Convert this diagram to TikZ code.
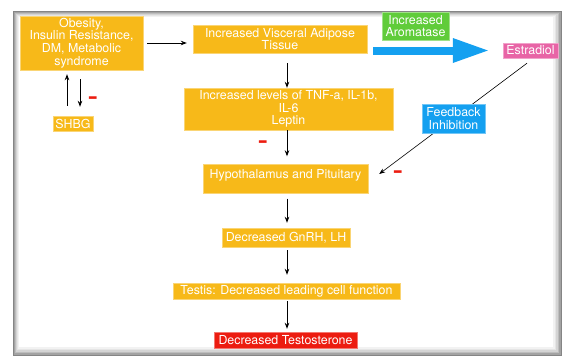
\documentclass[tikz,border=0pt]{standalone}
\usepackage{fontspec}
\setmainfont{TeX Gyre Heros}
\usetikzlibrary{arrows.meta}
\definecolor{boxorange}{RGB}{247,185,25}
\definecolor{boxgreen}{RGB}{96,204,58}
\definecolor{boxblue}{RGB}{20,160,240}
\definecolor{boxpink}{RGB}{232,100,166}
\definecolor{boxred}{RGB}{236,28,16}
\tikzset{
  box/.style={fill=boxorange, draw=boxorange!60!white, line width=0.4pt, text=white,
    inner sep=0pt, align=center, font=\fontsize{12.4}{12.6}\selectfont},
  arr/.style={-{Stealth[length=6pt,width=4.5pt]}, line width=0.8pt},
  minus/.style={text=boxred, inner sep=0pt, xscale=1.1, yscale=2, transform shape,
    font=\fontsize{12.4}{12.4}\selectfont\bfseries},
}
\begin{document}
\begin{tikzpicture}[x=1pt,y=1pt]
  \useasboundingbox (0,0) rectangle (562,-356);
  \foreach \i/\g in {0/48,1/36,2/26,3/17,4/10,5/5}
    \fill [black!\g] (13+\i,-11-\i) rectangle (562-1.5*\i,-356+1.5*\i);
  \fill [white] (19,-17) rectangle (553,-347);

  \node [box, minimum width=123, minimum height=54] (obes) at (81.5,-43)
    {Obesity,\\Insulin Resistance,\\DM, Metabolic\\syndrome};
  \node [box, minimum width=40, minimum height=15] (shbg) at (73,-123.5) {SHBG};
  \node [box, minimum width=174, minimum height=28] (visc) at (280,-39)
    {Increased Visceral Adipose\\Tissue};
  \node [box, fill=boxgreen, draw=boxgreen!60!white, minimum width=67, minimum height=28] (arom) at (415.5,-26)
    {Increased\\Aromatase};
  \node [box, fill=boxpink, draw=boxpink!60!white, minimum width=55, minimum height=15] (estr) at (530.5,-50.5) {Estradiol};
  \node [box, minimum width=209, minimum height=42] (cyto) at (288.5,-109)
    {Increased levels of TNF-a, IL-1b,\\IL-6\\Leptin};
  \node [box, minimum width=165, text height=14pt, text depth=15pt] (hypo) at (285.5,-179)
    {Hypothalamus and Pituitary};
  \node [box, minimum width=128, minimum height=19] (gnrh) at (286,-237.5) {Decreased GnRH, LH};
  \node [box, minimum width=227, minimum height=16] (testis) at (286.5,-291)
    {Testis: Decreased leading cell function};
  \node [box, fill=boxred, draw=boxred!60!white, minimum width=143, minimum height=16] (testo) at (285.5,-340)
    {Decreased Testosterone};

  \coordinate (col) at (287,0);
  \coordinate (fat0) at (373,-50.5);
  \coordinate (fat1) at ([xshift=-15pt]estr.west);
  \draw [boxblue, line width=8pt, -{Triangle[length=35pt,width=25pt,line width=0pt]}] (fat0) -- (fat1);

  \draw [arr, shorten <=4pt, shorten >=6pt] (obes.east) -- (obes.east -| visc.west);
  \draw [arr, shorten <=10pt] (visc.south -| col) -- (cyto.north -| col);
  \draw [arr, shorten >=8pt] (cyto.south -| col) -- (hypo.north -| col);
  \draw [arr, shorten <=5pt, shorten >=5pt] (hypo.south -| col) -- (gnrh.north -| col);
  \draw [arr, shorten <=3pt, shorten >=8pt] (gnrh.south -| col) -- (testis.north -| col);
  \draw [arr, shorten <=2pt, shorten >=3pt] (testis.south -| col) -- (testo.north -| col);
  \draw [arr, shorten <=10pt, shorten >=4pt] ([xshift=-6pt]shbg.north) -- ([xshift=-6pt]shbg.north |- obes.south);
  \draw [arr, shorten <=9pt, shorten >=9pt] ([xshift=7pt]shbg.north |- obes.south) -- ([xshift=7pt]shbg.north);
  \draw [arr, line width=0.6pt] ([xshift=-3.5pt,yshift=-5pt]estr.south) -- ([xshift=11pt,yshift=5pt]hypo.east);

  \node [box, fill=boxblue, draw=boxblue!60!white, minimum width=63, minimum height=29] (feed) at (453.5,-118.5)
    {Feedback\\Inhibition};

  \node [minus] (m1) at (93,-101) {--};
  \node [minus] (m2) at (263,-145) {--};
  \node [minus] (m3) at (398,-175) {--};
\end{tikzpicture}
\end{document}
